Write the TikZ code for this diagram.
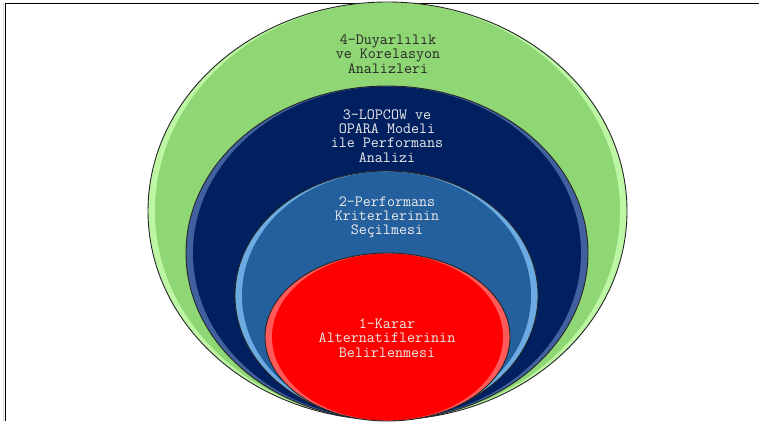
\documentclass[tikz,border=0pt]{standalone}
\usepackage{fontspec}
\definecolor{gA}{HTML}{8FD674}
\definecolor{gArim}{HTML}{BDF7A4}
\definecolor{bA}{HTML}{002060}
\definecolor{bArim}{HTML}{41609E}
\definecolor{mA}{HTML}{24609E}
\definecolor{mArim}{HTML}{6CAAE2}
\definecolor{rA}{HTML}{FF0000}
\definecolor{rArim}{HTML}{FF5A5A}
\definecolor{txtlight}{HTML}{ECECEC}
\definecolor{txtdark}{HTML}{262626}
\tikzset{
  outline/.style={draw=black!85, line width=0.9pt},
  lbl/.style={align=center, font=\ttfamily\fontsize{15.6}{14.2}\selectfont, inner sep=0pt}
}
\newcommand{\layer}[6]{% cx cy rx ry rim base
  \fill[#5] (#1,#2) ellipse [x radius=#3pt, y radius=#4pt];
  \fill[#6] (#1,#2) ellipse [x radius=#3pt-7pt, y radius=#4pt-0.5pt];
  \draw[outline] (#1,#2) ellipse [x radius=#3pt, y radius=#4pt];
}
\begin{document}
\begin{tikzpicture}[x=1pt,y=-1pt]
\useasboundingbox (0,0) rectangle (759,421);
\fill[white] (0,0) rectangle (759,421);
% frame
\draw[black!15, line width=1pt] (3.5,421) -- (3.5,1.5);
\draw[black, line width=1.3pt] (5.5,421) -- (5.5,3.5) -- (759,3.5);
% layers
\layer{387.5}{211}{239.5}{209}{gArim}{gA}
\layer{387}{253}{201}{167}{bArim}{bA}
\layer{386.5}{295.5}{151.5}{124.5}{mArim}{mA}
\layer{387.5}{337}{122.5}{84}{rArim}{rA}
% labels
\node[lbl, text=txtdark] (l4) at (388,54) {4-Duyarlılık\\ve Korelasyon\\Analizleri};
\node[lbl, text=txtlight] (l3) at (387,136) {3-LOPCOW ve\\OPARA Modeli\\ile Performans\\Analizi};
\node[lbl, text=txtlight] (l2) at (387,217) {2-Performans\\Kriterlerinin\\Seçilmesi};
\node[lbl, text=txtlight] (l1) at (387,338) {1-Karar\\Alternatiflerinin\\Belirlenmesi};
\end{tikzpicture}
\end{document}
